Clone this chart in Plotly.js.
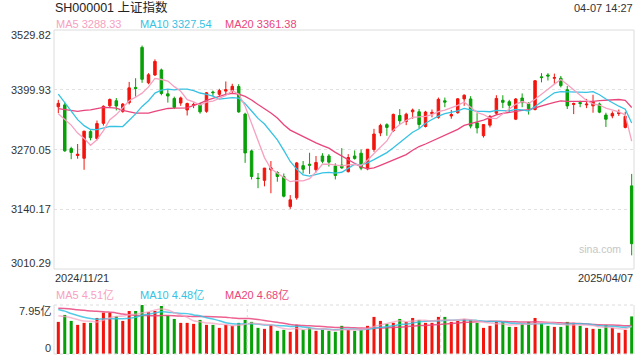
<!DOCTYPE html>
<html><head><meta charset="utf-8">
<script src="https://cdn.plot.ly/plotly-3.0.1.min.js"></script>
<style>html,body{margin:0;padding:0;background:#fff}#chart{width:640px;height:360px}</style>
</head><body><div id="chart"></div>
<script>
// ---- Data ----
const dates = ['2024-11-21','2024-11-22','2024-11-25','2024-11-26','2024-11-27','2024-11-28','2024-11-29',
'2024-12-02','2024-12-03','2024-12-04','2024-12-05','2024-12-06','2024-12-09','2024-12-10','2024-12-11','2024-12-12','2024-12-13',
'2024-12-16','2024-12-17','2024-12-18','2024-12-19','2024-12-20','2024-12-23','2024-12-24','2024-12-25','2024-12-26','2024-12-27',
'2024-12-30','2024-12-31','2025-01-02','2025-01-03','2025-01-06','2025-01-07','2025-01-08','2025-01-09','2025-01-10',
'2025-01-13','2025-01-14','2025-01-15','2025-01-16','2025-01-17','2025-01-20','2025-01-21','2025-01-22','2025-01-23','2025-01-24',
'2025-01-27','2025-02-05','2025-02-06','2025-02-07','2025-02-10','2025-02-11','2025-02-12','2025-02-13','2025-02-14',
'2025-02-17','2025-02-18','2025-02-19','2025-02-20','2025-02-21','2025-02-24','2025-02-25','2025-02-26','2025-02-27','2025-02-28',
'2025-03-03','2025-03-04','2025-03-05','2025-03-06','2025-03-07','2025-03-10','2025-03-11','2025-03-12','2025-03-13','2025-03-14',
'2025-03-17','2025-03-18','2025-03-19','2025-03-20','2025-03-21','2025-03-24','2025-03-25','2025-03-26','2025-03-27','2025-03-28',
'2025-03-31','2025-04-01','2025-04-02','2025-04-03','2025-04-07'];

const openP = [3363,3367,3272,3257,3251,3309,3294,3327,3365,3376,3353,3372,3405,3492,3415,3432,3443,
3391,3381,3371,3356,3366,3369,3353,3395,3390,3397,3398,3407,3347,3267,3208,3203,3226,3220,3211,
3146,3165,3235,3238,3226,3256,3256,3234,3236,3222,3256,3262,3228,3270,3306,3324,3311,3344,3331,
3352,3352,3320,3348,3340,3376,3343,3350,3380,3380,3328,3300,3323,3349,3377,3374,3336,3382,3370,3357,
3428,3432,3425,3425,3400,3368,3372,3367,3365,3369,3345,3343,3348,3318,3191];
const highP = [3378,3372,3276,3282,3311,3312,3333,3366,3381,3382,3371,3417,3425,3496,3436,3466,3446,
3400,3385,3385,3372,3372,3372,3395,3398,3402,3418,3413,3412,3350,3270,3219,3230,3245,3223,3218,
3171,3243,3245,3263,3256,3262,3260,3240,3273,3260,3268,3270,3271,3315,3326,3327,3348,3358,3350,
3359,3358,3354,3357,3383,3383,3356,3382,3390,3386,3349,3325,3345,3388,3388,3378,3382,3392,3373,3421,
3436,3436,3435,3430,3408,3372,3376,3380,3389,3372,3350,3353,3357,3352,3217];
const lowP = [3349,3265,3249,3250,3226,3290,3290,3322,3360,3355,3350,3368,3385,3415,3412,3430,3388,
3372,3358,3365,3344,3360,3348,3350,3386,3384,3390,3392,3350,3241,3205,3186,3190,3175,3200,3166,
3141,3161,3218,3217,3220,3240,3233,3205,3228,3220,3248,3225,3225,3265,3299,3300,3308,3325,3323,
3337,3315,3318,3340,3337,3362,3337,3348,3365,3316,3305,3296,3318,3345,3360,3350,3334,3362,3346,3355,
3416,3420,3412,3405,3358,3347,3362,3360,3350,3349,3319,3338,3343,3316,3040];
const closeP = [3370.40,3267.19,3263.76,3259.76,3309.78,3295.70,3326.46,3363.98,3378.81,3364.65,3368.86,3404.08,3402.53,3422.66,3432.49,3461.50,3391.88,
3386.33,3361.49,3382.21,3370.03,3368.07,3351.88,3393.35,3393.53,3398.08,3400.14,3407.33,3351.76,3262.56,3211.43,3206.92,3229.64,3230.17,3211.39,3168.52,
3160.76,3240.94,3227.12,3236.03,3241.82,3244.38,3242.62,3213.62,3230.16,3252.63,3250.60,3229.49,3270.66,3303.67,3322.17,3318.06,3346.39,3332.48,3346.72,
3355.83,3324.49,3351.54,3350.78,3379.11,3373.03,3346.04,3380.21,3388.06,3320.90,3316.93,3324.21,3341.96,3381.10,3372.55,3366.16,3379.83,3371.92,3358.73,3419.56,
3426.43,3429.76,3426.43,3408.95,3364.83,3370.03,3369.98,3368.71,3373.75,3351.31,3335.75,3348.44,3350.13,3342.01,3065.32];
// closes of the 19 sessions before the first candle (for the moving averages)
const priorCloses = [3299.70,3322.20,3286.41,3266.24,3279.82,3272.01,3310.21,3386.99,3383.81,3470.66,
3452.30,3470.07,3421.97,3439.28,3379.84,3330.73,3323.85,3346.01,3367.99];

// volume (亿)
const volume = [5.21,6.34,5.37,4.73,5.05,5.05,5.85,6.71,6.71,6.12,
5.37,6.98,6.98,7.95,6.82,6.98,7.79,6.23,5.69,5.05,
5.05,4.89,5.53,4.73,4.73,4.24,4.73,4.57,5.05,5.53,
5.21,4.24,4.08,4.73,3.76,3.92,3.60,4.73,3.92,4.24,
3.76,3.92,3.76,3.60,4.57,3.92,3.76,3.92,4.57,6.02,
5.37,4.89,5.05,5.69,5.21,5.85,5.53,5.05,5.05,6.02,
6.02,5.21,5.37,5.69,5.53,5.05,4.24,4.57,5.21,5.21,
4.40,4.40,4.89,5.21,5.85,5.05,4.57,4.40,4.40,5.21,
5.05,4.57,4.24,4.08,4.08,4.73,4.24,3.44,3.92,6.10];
// estimated volumes of the 19 sessions before the first bar
const priorVolume = [7.0,6.8,7.2,7.0,6.8,7.4,7.6,8.6,8.4,9.2,9.0,9.2,8.0,7.8,7.1,7.0,6.4,6.2,6.3];

const yTicks = [3529.82,3399.93,3270.05,3140.17,3010.29];
const yTickText = ['3529.82','3399.93','3270.05','3140.17','3010.29'];
const volTicks = [7.95,0];
const volTickText = ['7.95亿','0'];
const titleText = 'SH000001 上证指数';
const timeText = '04-07 14:27';
const priceLegend = ['MA5 3288.33','MA10 3327.54','MA20 3361.38'];
const volLegend = ['MA5 4.51亿','MA10 4.48亿','MA20 4.68亿'];
const startLabel = '2024/11/21', endLabel = '2025/04/07';

// ---- styling ----
const RED = '#f2150d', GREEN = '#08a008';
const C5 = '#f7a1c0', C10 = '#36c2e3', C20 = '#e9457c';
const FONT = '"Liberation Sans", Arial, "Noto Sans CJK SC", sans-serif';

function movingAvg(prior, vals, n) {
  const all = prior.concat(vals);
  return vals.map((_, i) => {
    const j = i + prior.length; let s = 0;
    for (let k = j - n + 1; k <= j; k++) s += all[k];
    return s / n;
  });
}
const ma5 = movingAvg(priorCloses, closeP, 5), ma10 = movingAvg(priorCloses, closeP, 10), ma20 = movingAvg(priorCloses, closeP, 20);
const vma5 = movingAvg(priorVolume, volume, 5), vma10 = movingAvg(priorVolume, volume, 10), vma20 = movingAvg(priorVolume, volume, 20);
const volColors = closeP.map((c, i) => c >= openP[i] ? RED : GREEN);

const traces = [
  {type:'bar', x:dates, y:volume, xaxis:'x', yaxis:'y2', width:0.47, marker:{color:volColors, line:{width:0}}, hoverinfo:'skip'},
  {type:'scatter', mode:'lines', x:dates, y:vma20, xaxis:'x', yaxis:'y2', line:{color:C20, width:1.5, shape:'spline'}, opacity:0.85, hoverinfo:'skip'},
  {type:'scatter', mode:'lines', x:dates, y:vma10, xaxis:'x', yaxis:'y2', line:{color:C10, width:1.5, shape:'spline'}, opacity:0.85, hoverinfo:'skip'},
  {type:'scatter', mode:'lines', x:dates, y:vma5, xaxis:'x', yaxis:'y2', line:{color:C5, width:1.5, shape:'spline'}, opacity:0.7, hoverinfo:'skip'},
  {type:'candlestick', x:dates, open:openP, high:highP, low:lowP, close:closeP, xaxis:'x', yaxis:'y',
   increasing:{line:{color:RED, width:1}, fillcolor:RED}, decreasing:{line:{color:GREEN, width:1}, fillcolor:GREEN},
   whiskerwidth:0, hoverinfo:'skip'},
  {type:'scatter', mode:'lines', x:dates, y:ma20, xaxis:'x', yaxis:'y', line:{color:C20, width:1.3}, hoverinfo:'skip'},
  {type:'scatter', mode:'lines', x:dates, y:ma10, xaxis:'x', yaxis:'y', line:{color:C10, width:1.3}, hoverinfo:'skip'},
  {type:'scatter', mode:'lines', x:dates, y:ma5, xaxis:'x', yaxis:'y', line:{color:C5, width:1.3}, hoverinfo:'skip'}
];

const PB = 0.2623, VT = 0.1512; // domain edges
const annotations = [];
function txt(text, x, y, opts) {
  annotations.push(Object.assign({text:text, x:x, y:y, xref:'paper', yref:'paper', showarrow:false,
    xanchor:'left', yanchor:'middle', font:{family:FONT, size:11, color:'#333'}, borderpad:0}, opts || {}));
}
txt(titleText, 0.0, 1.0694, {font:{family:FONT, size:12.5, color:'#222'}});
txt(timeText, 1.0, 1.0694, {xanchor:'right'});
const legX = [0.0017, 0.1466, 0.2931], legC = [C5, C10, C20];
priceLegend.forEach((t, i) => txt(t, legX[i], 1.0185, {font:{family:FONT, size:11, color:legC[i]}}));
volLegend.forEach((t, i) => txt(t, legX[i], 0.1821, {font:{family:FONT, size:11, color:legC[i]}}));
yTicks.forEach((v, i) => {
  const shift = i === 0 ? -5 : (i === yTicks.length - 1 ? 6 : 0);
  annotations.push({text:yTickText[i], x:-0.004, y:v, xref:'paper', yref:'y', xanchor:'right', yanchor:'middle',
    yshift:shift, showarrow:false, borderpad:0, font:{family:FONT, size:11, color:'#333'}});
});
volTicks.forEach((v, i) => {
  annotations.push({text:volTickText[i], x:-0.004, y:v, xref:'paper', yref:'y2', xanchor:'right', yanchor:'middle',
    yshift: i === 0 ? -6 : 6, showarrow:false, borderpad:0, font:{family:FONT, size:11, color:'#333'}});
});
txt(startLabel, 0.0, 0.2361);
txt(endLabel, 1.0, 0.2361, {xanchor:'right'});
txt('sina.com', 0.9793, 0.3241, {xanchor:'right', font:{family:FONT, size:10.5, color:'#c6c6c6'}});

const GRID = '#dcdcdc';
const shapes = [
  {type:'rect', xref:'paper', yref:'paper', x0:0, x1:1, y0:PB, y1:1, line:{color:GRID, width:1}},
  {type:'line', xref:'paper', yref:'paper', x0:0, x1:1, y0:VT, y1:VT, line:{color:GRID, width:1, dash:'dot'}},
  {type:'line', xref:'paper', yref:'paper', x0:0, x1:1, y0:0, y1:0, line:{color:GRID, width:1, dash:'dot'}},
  {type:'line', xref:'paper', yref:'paper', x0:0, x1:0, y0:0, y1:VT, line:{color:GRID, width:1}},
  {type:'line', xref:'paper', yref:'paper', x0:1, x1:1, y0:0, y1:VT, line:{color:GRID, width:1}},
  {type:'line', xref:'paper', yref:'paper', x0:1/3, x1:1/3, y0:0, y1:VT, line:{color:GRID, width:1, dash:'dot'}},
  {type:'line', xref:'paper', yref:'paper', x0:2/3, x1:2/3, y0:0, y1:VT, line:{color:GRID, width:1, dash:'dot'}}
];

const layout = {
  width:640, height:360, margin:{l:54, r:6, t:30, b:6},
  paper_bgcolor:'#fff', plot_bgcolor:'#fff', showlegend:false, boxgap:0.45, bargap:0.5,
  xaxis:{type:'category', range:[-0.67, 89.36], showgrid:false, showticklabels:false, showline:false,
    zeroline:false, ticks:'', rangeslider:{visible:false}, fixedrange:true},
  yaxis:{domain:[PB, 1], range:[3010.29, 3529.82], tickvals:[3140.17, 3270.05, 3399.93], showticklabels:false,
    showgrid:true, gridcolor:'#e2e2e2', griddash:'dot', gridwidth:1, zeroline:false, showline:false, ticks:'', fixedrange:true},
  yaxis2:{domain:[0, VT], range:[0, 7.95], showgrid:false, showticklabels:false, zeroline:false, showline:false, ticks:'', fixedrange:true},
  shapes:shapes, annotations:annotations, hovermode:false
};
Plotly.newPlot('chart', traces, layout, {staticPlot:true, displayModeBar:false});
</script></body></html>
